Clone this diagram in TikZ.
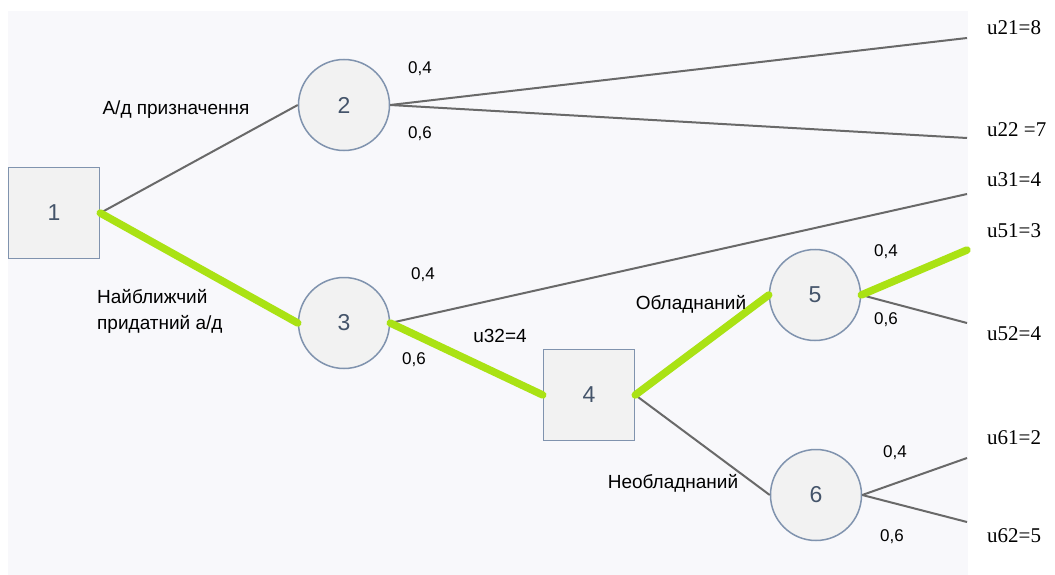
\documentclass[tikz,border=0pt]{standalone}
\usepackage{fontspec}
\setmainfont{Liberation Serif}
\setsansfont{Liberation Sans}
\usetikzlibrary{positioning}
\definecolor{panel}{RGB}{248,248,251}
\definecolor{nodefill}{RGB}{242,242,242}
\definecolor{nodeline}{RGB}{128,147,174}
\definecolor{nodetext}{RGB}{68,84,106}
\definecolor{branch}{RGB}{105,105,105}
\definecolor{optimal}{RGB}{170,226,20}
\tikzset{
  chance/.style={circle,draw=nodeline,line width=1.5pt,fill=nodefill,minimum size=91pt,inner sep=0pt,
                 text=nodetext,font=\sffamily\fontsize{23}{26}\selectfont},
  dec/.style={chance,rectangle,minimum size=91pt},
  edge/.style={draw=branch,line width=2pt},
  best/.style={draw=optimal,line width=7.5pt,line cap=round},
  prob/.style={font=\sffamily\fontsize{17}{20}\selectfont,inner sep=0pt},
  flabel/.style={font=\sffamily\fontsize{19}{26}\selectfont,align=left,inner sep=0pt},
  payoff/.style={font=\fontsize{21}{24}\selectfont,anchor=west,inner sep=0pt},
}
\begin{document}
\begin{tikzpicture}[x=1pt,y=-1pt]
  \useasboundingbox (0,0) rectangle (1055,575);
  \fill[panel] (8,11) rectangle (968,575);

  % decisions and chance events
  \node[dec]    (n1) at (54,213)  {1};
  \node[chance] (n2) at (344,105) {2};
  \node[chance] (n3) at (344,323) {3};
  \node[dec]    (n4) at (589,395) {4};
  \node[chance] (n5) at (815,295) {5};
  \node[chance] (n6) at (816,495) {6};

  % branch ends
  \coordinate (e21) at (967,38);
  \coordinate (e22) at (967,138);
  \coordinate (e31) at (967,194);
  \coordinate (e51) at (967,250);
  \coordinate (e52) at (967,323);
  \coordinate (e61) at (967,458);
  \coordinate (e62) at (967,522);

  \draw[edge] (n1.east) -- (n2.west);
  \draw[edge] (n2.east) -- (e21);
  \draw[edge] (n2.east) -- (e22);
  \draw[edge] (n3.east) -- (e31);
  \draw[edge] (n4.east) -- (n6.west);
  \draw[edge] (n5.east) -- (e52);
  \draw[edge] (n6.east) -- (e61);
  \draw[edge] (n6.east) -- (e62);
  % optimal path
  \draw[best] (n1.east) -- (n3.west);
  \draw[best] (n3.east) -- (n4.west);
  \draw[best] (n4.east) -- (n5.west);
  \draw[best] (n5.east) -- (e51);

  % payoffs
  \node[payoff] (u21) at (987,28)  {u21=8};
  \node[payoff] (u22) at (987,130) {u22 =7};
  \node[payoff] (u31) at (987,180) {u31=4};
  \node[payoff] (u51) at (987,231) {u51=3};
  \node[payoff] (u52) at (987,334) {u52=4};
  \node[payoff] (u61) at (987,438) {u61=2};
  \node[payoff] (u62) at (987,536) {u62=5};

  % probabilities
  \node[prob] (p24) at (420,69)  {0,4};
  \node[prob] (p26) at (420,134) {0,6};
  \node[prob] (p34) at (423,275) {0,4};
  \node[prob] (p36) at (414,360) {0,6};
  \node[prob] (p54) at (886,252) {0,4};
  \node[prob] (p56) at (886,320) {0,6};
  \node[prob] (p64) at (895,453) {0,4};
  \node[prob] (p66) at (892,537) {0,6};

  % branch labels
  \node[flabel] (l12) at (176,110) {А/д призначення};
  \node[flabel,anchor=west] (l13) at (97,311) {Найближчий\\придатний а/д};
  \node[flabel] (l34) at (500,336) {u32=4};
  \node[flabel] (l45) at (691,304) {Обладнаний};
  \node[flabel] (l46) at (673,483) {Необладнаний};
\end{tikzpicture}
\end{document}
